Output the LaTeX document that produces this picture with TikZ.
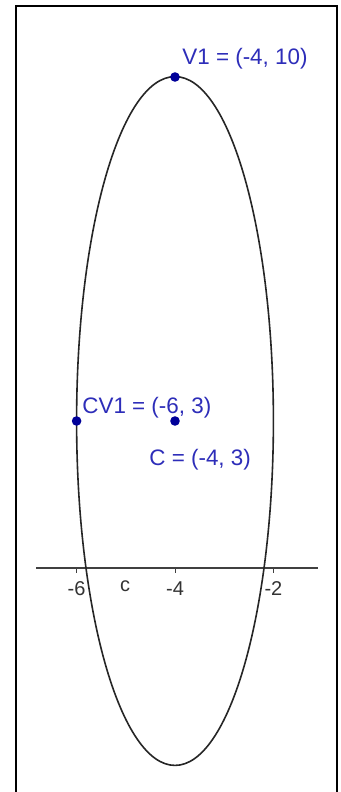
\documentclass[tikz,border=0pt]{standalone}
\usepackage{fontspec}
\setmainfont{Liberation Sans}
\definecolor{ptblue}{RGB}{0,0,153}
\definecolor{lblblue}{RGB}{45,45,185}
\begin{document}
\begin{tikzpicture}[x=0.5pt,y=-0.5pt,
  pt/.style={circle,fill=ptblue,inner sep=0pt,minimum size=4.8pt},
  lbl/.style={text=lblblue,font=\fontsize{11.2pt}{13pt}\selectfont,inner sep=0pt,anchor=base west},
  ticklbl/.style={text=black!80,font=\fontsize{10pt}{12pt}\selectfont,inner sep=0pt,anchor=base},
  conlbl/.style={text=black!80,font=\fontsize{10pt}{12pt}\selectfont,inner sep=0pt,anchor=base},
  frameline/.style={line width=1pt,black},
  curve/.style={line width=0.8pt,black!85},
  axisline/.style={line width=0.65pt,black!75},
  tickline/.style={line width=0.5pt,black!75}]
\useasboundingbox (0,0) rectangle (341,792);
\fill[white] (0,0) rectangle (341,792);
% frame
\coordinate (fBL) at (16,792);
\coordinate (fTL) at (16,6.5);
\coordinate (fTR) at (337,6.5);
\coordinate (fBR) at (337,792);
\draw[frameline] (fBL) -- (fTL) -- (fTR) -- (fBR);
% axis
\coordinate (axL) at (36,568);
\coordinate (axR) at (318,568);
\draw[axisline] (axL) -- (axR);
\foreach \xx/\lab in {76.6/-6,175/-4,273.4/-2}{
  \coordinate (t\lab) at (\xx,568);
  \draw[tickline] (t\lab) -- ++(0,4.5);
  \node[ticklbl] at (\xx,595) {\lab};
}
% ellipse
\draw[curve] (175,421) ellipse [x radius=98.4, y radius=344.4];
\node[conlbl] (clab) at (125,591) {c};
% points
\node[pt] (V1) at (175,77) {};
\node[pt] (CV1) at (76.6,421) {};
\node[pt] (C) at (175,421) {};
\node[lbl] (V1lab) at (182,65) {V1 = (-4, 10)};
\node[lbl] (CV1lab) at (82,413) {CV1 = (-6, 3)};
\node[lbl] (Clab) at (149,465) {C = (-4, 3)};
\end{tikzpicture}
\end{document}
